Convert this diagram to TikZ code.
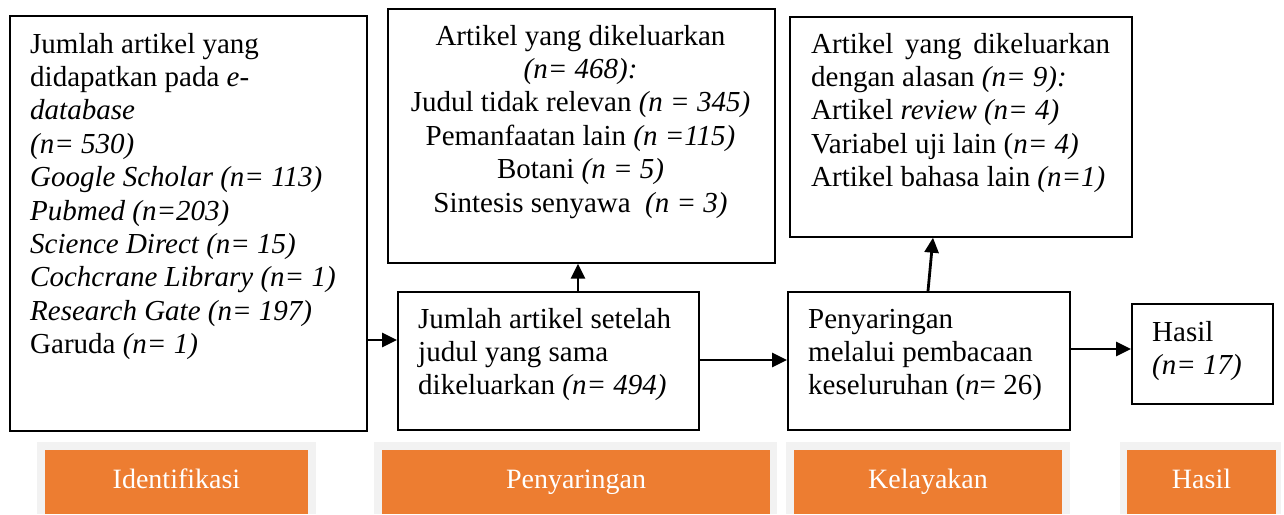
\documentclass[tikz,border=0pt]{standalone}
\usepackage{fontspec}
\setmainfont{Liberation Serif}
\usetikzlibrary{arrows.meta}
\definecolor{bandorange}{HTML}{ED7D31}
\definecolor{bandgray}{HTML}{F2F2F2}
\begin{document}
\begin{tikzpicture}[x=1pt,y=-1pt,
  box/.style={draw=black,line width=1.7pt,anchor=north west,inner sep=0pt,minimum width=#1},
  txt/.style={anchor=north west,inner sep=0pt,font=\fontsize{29}{33.4}\selectfont,align=left},
  ctxt/.style={anchor=north,inner sep=0pt,font=\fontsize{29}{33.4}\selectfont,align=center},
  conn/.style={line width=2.8pt,-{Triangle[length=15pt,width=14pt]}},
  grayband/.style={fill=bandgray,draw=none,anchor=north west,inner sep=0pt},
  orangeband/.style={fill=bandorange,draw=none,anchor=north west,inner sep=0pt},
  bandtxt/.style={text=white,inner sep=0pt,anchor=base,font=\fontsize{28}{30}\selectfont}]
\useasboundingbox (0,0) rectangle (1284,514);
% boxes
\node[box=357pt,minimum height=415pt] (b1) at (9,15) {};
\node[box=387pt,minimum height=254pt] (b2) at (387,8) {};
\node[box=301pt,minimum height=138pt] (b3) at (397,291) {};
\node[box=342pt,minimum height=220pt] (b4) at (789,16) {};
\node[box=282pt,minimum height=138pt] (b5) at (787,291) {};
\node[box=141pt,minimum height=100pt] (b6) at (1131,303) {};
% texts
\node[txt] (t1) at (30,29.6) {\strut Jumlah artikel yang\\
didapatkan pada \textit{e-}\\
\textit{database}\\
\textit{(n= 530)}\\
\textit{Google Scholar (n= 113)}\\
\textit{Pubmed (n=203)}\\
\textit{Science Direct (n= 15)}\\
\textit{Cochcrane Library (n= 1)}\\
\textit{Research Gate (n= 197)}\\
Garuda \textit{(n= 1)}};
\node[ctxt] (t2) at (580.5,21.6) {\strut Artikel yang dikeluarkan\\
\textit{(n= 468):}\\
Judul tidak relevan \textit{(n = 345)}\\
Pemanfaatan lain \textit{(n =115)}\\
Botani \textit{(n = 5)}\\
Sintesis senyawa \ \textit{(n = 3)}};
\node[txt] (t3) at (418,304.6) {\strut Jumlah artikel setelah\\
judul yang sama\\
dikeluarkan \textit{(n= 494)}};
\node[txt] (t4) at (811,29.6) {\strut \makebox[299pt][s]{Artikel yang dikeluarkan}\\
dengan alasan \textit{(n= 9):}\\
Artikel \textit{review (n= 4)}\\
Variabel uji lain (\textit{n= 4)}\\
Artikel bahasa lain \textit{(n=1)}};
\node[txt] (t5) at (808,304.6) {\strut Penyaringan\\
melalui pembacaan\\
keseluruhan (\textit{n}= 26)};
\node[txt] (t6) at (1152,317.6) {\strut Hasil\\
\textit{(n= 17)}};
% connectors
\coordinate (a1s) at (366,340); \coordinate (a1e) at (397,340);
\draw[conn] (b1.east |- a1s) -- (b3.west |- a1e);
\coordinate (a2) at (578,0);
\draw[conn] (b3.north -| a2) -- (b2.south -| a2);
\coordinate (a3) at (0,360);
\draw[conn] (b3.east |- a3) -- (b5.west |- a3);
\coordinate (a4s) at (928,0); \coordinate (a4e) at (933,0);
\draw[conn] (b5.north -| a4s) -- (b4.south -| a4e);
\coordinate (a5) at (0,349);
\draw[conn] (b5.east |- a5) -- (b6.west |- a5);
% bottom bands
\node[grayband,minimum width=279pt,minimum height=72pt] (g1) at (37,442) {};
\node[grayband,minimum width=403pt,minimum height=72pt] (g2) at (374,442) {};
\node[grayband,minimum width=284pt,minimum height=72pt] (g3) at (786,442) {};
\node[grayband,minimum width=161pt,minimum height=72pt] (g4) at (1120,442) {};
\node[orangeband,minimum width=263pt,minimum height=64pt] (o1) at (45,450) {};
\node[orangeband,minimum width=388pt,minimum height=64pt] (o2) at (382,450) {};
\node[orangeband,minimum width=268pt,minimum height=64pt] (o3) at (794,450) {};
\node[orangeband,minimum width=149pt,minimum height=64pt] (o4) at (1127,450) {};
\node[bandtxt] (l1) at (176.5,488) {Identifikasi};
\node[bandtxt] (l2) at (576,488) {Penyaringan};
\node[bandtxt] (l3) at (928,488) {Kelayakan};
\node[bandtxt] (l4) at (1201.5,488) {Hasil};
\end{tikzpicture}
\end{document}
